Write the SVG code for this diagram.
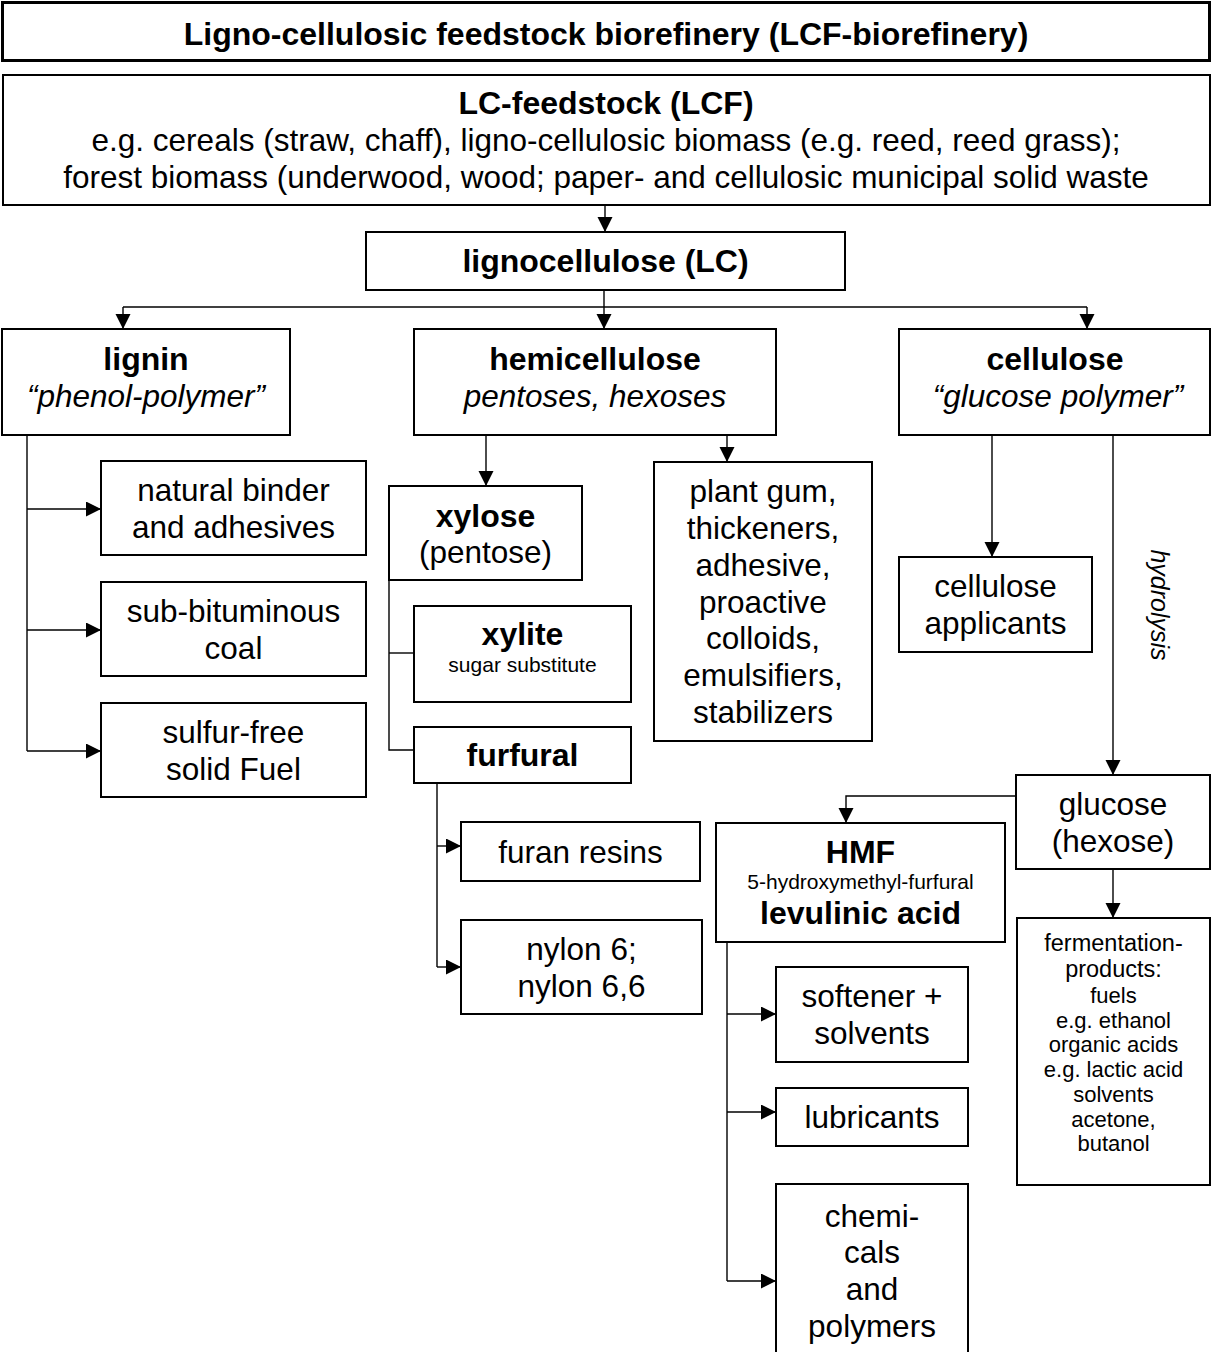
<svg xmlns="http://www.w3.org/2000/svg" width="1212" height="1352" viewBox="0 0 1212 1352">
<style>
.box{fill:#fff;stroke:#000;stroke-width:2}
.t{font-family:"Liberation Sans",Arial,sans-serif;font-size:31.5px;text-anchor:middle;fill:#000}
.b{font-weight:bold;font-size:32px}
.i{font-style:italic}
.s{font-size:21px}
.m{font-size:23.5px}
.f{font-size:22px}
.c{fill:none;stroke:#000;stroke-width:1.4}
</style>
<defs>
<marker id="ah" markerUnits="userSpaceOnUse" markerWidth="16" markerHeight="16" refX="15" refY="7.5" orient="auto">
<path d="M0,0 L15,7.5 L0,15 z" fill="#000"/>
</marker>
</defs>
<rect width="1212" height="1352" fill="#fff"/>
<g id="connectors" class="c">
<path d="M605,205 V232" marker-end="url(#ah)"/>
<path d="M604,290 V329" marker-end="url(#ah)"/>
<path d="M123,307 H1087"/>
<path d="M123,307 V329" marker-end="url(#ah)"/>
<path d="M1087,307 V329" marker-end="url(#ah)"/>
<path d="M27,435 V751"/>
<path d="M27,509 H101" marker-end="url(#ah)"/>
<path d="M27,630 H101" marker-end="url(#ah)"/>
<path d="M27,751 H101" marker-end="url(#ah)"/>
<path d="M486,435 V486" marker-end="url(#ah)"/>
<path d="M727,435 V462" marker-end="url(#ah)"/>
<path d="M389,580 V750 H414"/>
<path d="M389,653 H414"/>
<path d="M437,783 V967"/>
<path d="M437,846 H461" marker-end="url(#ah)"/>
<path d="M437,967 H461" marker-end="url(#ah)"/>
<path d="M992,435 V557" marker-end="url(#ah)"/>
<path d="M1113,435 V775" marker-end="url(#ah)"/>
<path d="M1016,796 H846 V823" marker-end="url(#ah)"/>
<path d="M1113,869 V918" marker-end="url(#ah)"/>
<path d="M727,942 V1281"/>
<path d="M727,1014 H776" marker-end="url(#ah)"/>
<path d="M727,1112 H776" marker-end="url(#ah)"/>
<path d="M727,1281 H776" marker-end="url(#ah)"/>
</g>
<g id="title">
<rect x="2.5" y="2.5" width="1207" height="58" fill="#fff" stroke="#000" stroke-width="3"/>
<text class="t b" x="606" y="45">Ligno-cellulosic feedstock biorefinery (LCF-biorefinery)</text>
</g>
<g id="lcf">
<rect class="box" x="3" y="75" width="1207" height="130"/>
<text class="t b" x="606" y="114">LC-feedstock (LCF)</text>
<text class="t" x="606" y="151">e.g. cereals (straw, chaff), ligno-cellulosic biomass (e.g. reed, reed grass);</text>
<text class="t" x="606" y="188">forest biomass (underwood, wood; paper- and cellulosic municipal solid waste</text>
</g>
<g id="lc">
<rect class="box" x="366" y="232" width="479" height="58"/>
<text class="t b" x="605.5" y="272">lignocellulose (LC)</text>
</g>
<g id="lignin">
<rect class="box" x="2" y="329" width="288" height="106"/>
<text class="t b" x="146" y="370">lignin</text>
<text class="t i" x="146" y="407">“phenol-polymer”</text>
</g>
<g id="hemicellulose">
<rect class="box" x="414" y="329" width="362" height="106"/>
<text class="t b" x="595" y="370">hemicellulose</text>
<text class="t i" x="595" y="407">pentoses, hexoses</text>
</g>
<g id="cellulose">
<rect class="box" x="899" y="329" width="311" height="106"/>
<text class="t b" x="1055" y="370">cellulose</text>
<text class="t i" x="1058" y="407">“glucose polymer”</text>
</g>
<g id="binder">
<rect class="box" x="101" y="461" width="265" height="94"/>
<text class="t" x="233.5" y="501">natural binder</text>
<text class="t" x="233.5" y="538">and adhesives</text>
</g>
<g id="coal">
<rect class="box" x="101" y="582" width="265" height="94"/>
<text class="t" x="233.5" y="622">sub-bituminous</text>
<text class="t" x="233.5" y="659">coal</text>
</g>
<g id="fuel">
<rect class="box" x="101" y="703" width="265" height="94"/>
<text class="t" x="233.5" y="743">sulfur-free</text>
<text class="t" x="233.5" y="780">solid Fuel</text>
</g>
<g id="xylose">
<rect class="box" x="389" y="486" width="193" height="94"/>
<text class="t b" x="485.5" y="527">xylose</text>
<text class="t" x="485.5" y="563">(pentose)</text>
</g>
<g id="xylite">
<rect class="box" x="414" y="606" width="217" height="96"/>
<text class="t b" x="522.5" y="645">xylite</text>
<text class="t s" x="522.5" y="672">sugar substitute</text>
</g>
<g id="furfural">
<rect class="box" x="414" y="727" width="217" height="56"/>
<text class="t b" x="522.5" y="766">furfural</text>
</g>
<g id="plantgum">
<rect class="box" x="654" y="462" width="218" height="279"/>
<text class="t" x="763" y="502">plant gum,</text>
<text class="t" x="763" y="539">thickeners,</text>
<text class="t" x="763" y="576">adhesive,</text>
<text class="t" x="763" y="613">proactive</text>
<text class="t" x="763" y="649">colloids,</text>
<text class="t" x="763" y="686">emulsifiers,</text>
<text class="t" x="763" y="723">stabilizers</text>
</g>
<g id="applicants">
<rect class="box" x="899" y="557" width="193" height="95"/>
<text class="t" x="995.5" y="597">cellulose</text>
<text class="t" x="995.5" y="634">applicants</text>
</g>
<text class="t i" style="font-size:25px" transform="translate(1151,605) rotate(90)">hydrolysis</text>
<g id="glucose">
<rect class="box" x="1016" y="775" width="194" height="94"/>
<text class="t" x="1113" y="815">glucose</text>
<text class="t" x="1113" y="852">(hexose)</text>
</g>
<g id="hmf">
<rect class="box" x="716" y="823" width="289" height="119"/>
<text class="t b" x="860.5" y="863">HMF</text>
<text class="t s" x="860.5" y="889">5-hydroxymethyl-furfural</text>
<text class="t b" x="860.5" y="924">levulinic acid</text>
</g>
<g id="fermentation">
<rect class="box" x="1017" y="918" width="193" height="267"/>
<text class="t m" x="1113.5" y="951">fermentation-</text>
<text class="t m" x="1113.5" y="977">products:</text>
<text class="t f" x="1113.5" y="1003">fuels</text>
<text class="t f" x="1113.5" y="1028">e.g. ethanol</text>
<text class="t f" x="1113.5" y="1052">organic acids</text>
<text class="t f" x="1113.5" y="1077">e.g. lactic acid</text>
<text class="t f" x="1113.5" y="1102">solvents</text>
<text class="t f" x="1113.5" y="1127">acetone,</text>
<text class="t f" x="1113.5" y="1151">butanol</text>
</g>
<g id="furan">
<rect class="box" x="461" y="822" width="239" height="59"/>
<text class="t" x="580.5" y="863">furan resins</text>
</g>
<g id="nylon">
<rect class="box" x="461" y="920" width="241" height="94"/>
<text class="t" x="581.5" y="960">nylon 6;</text>
<text class="t" x="581.5" y="997">nylon 6,6</text>
</g>
<g id="softener">
<rect class="box" x="776" y="967" width="192" height="95"/>
<text class="t" x="872" y="1007">softener +</text>
<text class="t" x="872" y="1044">solvents</text>
</g>
<g id="lubricants">
<rect class="box" x="776" y="1088" width="192" height="58"/>
<text class="t" x="872" y="1128">lubricants</text>
</g>
<g id="chemicals">
<rect class="box" x="776" y="1184" width="192" height="180"/>
<text class="t" x="872" y="1227">chemi-</text>
<text class="t" x="872" y="1263">cals</text>
<text class="t" x="872" y="1300">and</text>
<text class="t" x="872" y="1337">polymers</text>
</g>
</svg>
